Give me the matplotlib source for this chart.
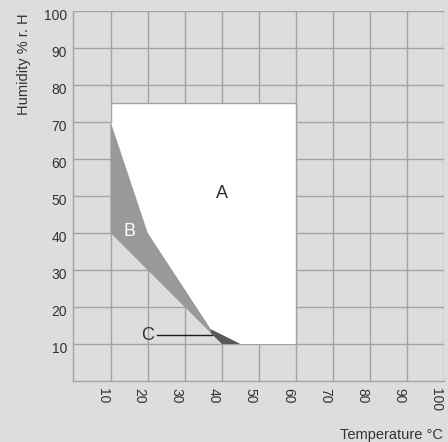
import matplotlib
matplotlib.use("Agg")
import matplotlib.pyplot as plt
from matplotlib.patches import Polygon
from matplotlib.transforms import ScaledTranslation, blended_transform_factory

# operating range chart: temperature (x) vs relative humidity (y)
ticks = [10, 20, 30, 40, 50, 60, 70, 80, 90, 100]

# region outlines (temperature, humidity)
area_a = [(10, 70), (10, 75), (60, 75), (60, 10), (45, 10), (37, 14), (20, 40)]
area_b = [(10, 70), (20, 40), (37, 14), (37, 13), (10, 40)]
area_c = [(37, 14), (45, 10), (40, 10), (37, 13)]
a_border = [(10, 70), (10, 75), (60, 75), (60, 10)]

labels = ["A", "B", "C"]
label_pos = [(40, 50.5), (15, 40.3), (19.9, 12.4)]
c_line = [(22.4, 12.5), (37.4, 12.5)]

bg = "#dcdddf"
grid_col = "#a3a3a5"
txt = "#333333"

plt.rcParams['font.family'] = ['Liberation Sans', 'DejaVu Sans']

fig = plt.figure(figsize=(4.48, 4.42), dpi=100, facecolor=bg)
ax = fig.add_axes([73.4 / 448, 61 / 442, 371 / 448, 370.3 / 442])
ax.set_facecolor(bg)
ax.set_xlim(0, 100)
ax.set_ylim(0, 100)

ax.set_xticks(ticks)
ax.set_yticks(ticks)
ax.tick_params(length=0, labelbottom=False, labelleft=False)

# tick labels drawn by hand, shifted like the original
px = fig.dpi_scale_trans
tx = blended_transform_factory(ax.transData, ax.transAxes) + ScaledTranslation(-8 / 100, -7 / 100, px)
ty = blended_transform_factory(ax.transAxes, ax.transData) + ScaledTranslation(-6.5 / 100, -5.5 / 100, px)
for t in ticks:
    ax.text(t, 0, str(t), transform=tx, rotation=-90, ha='center', va='top',
            fontsize=10, color=txt, clip_on=False)
    ax.text(0, t, str(t), transform=ty, ha='right', va='center',
            fontsize=10, color=txt, clip_on=False)

ax.grid(True, color=grid_col, linewidth=1)
ax.set_axisbelow(True)
for side in ['top', 'right']:
    ax.spines[side].set_visible(False)
for side in ['left', 'bottom']:
    ax.spines[side].set_color(grid_col)
    ax.spines[side].set_linewidth(1)

ax.add_patch(Polygon(area_a, closed=True, facecolor="white", edgecolor="none", zorder=2))
ax.add_patch(Polygon(area_b, closed=True, facecolor="#98999b", edgecolor="none", zorder=3))
ax.add_patch(Polygon(area_c, closed=True, facecolor="#58585a", edgecolor="none", zorder=3))
ax.plot([p[0] for p in a_border], [p[1] for p in a_border], color=grid_col, lw=1, zorder=2.5)

ax.plot([p[0] for p in c_line], [p[1] for p in c_line], color="#1a1a1a", lw=1, zorder=4)
label_cols = [txt, "white", txt]
for lab, (x, y), col in zip(labels, label_pos, label_cols):
    ax.text(x, y, lab, fontsize=13, color=col, ha='center', va='center', zorder=5)

fig.text(24 / 448, 1 - 13 / 442, "Humidity % r. H", rotation=90, ha='center', va='top',
         fontsize=10.5, color=txt)
fig.text(443 / 448, 3 / 442, "Temperature °C", ha='right', va='baseline',
         fontsize=10.5, color=txt)

fig.savefig("out.png", dpi=100, facecolor=bg)
